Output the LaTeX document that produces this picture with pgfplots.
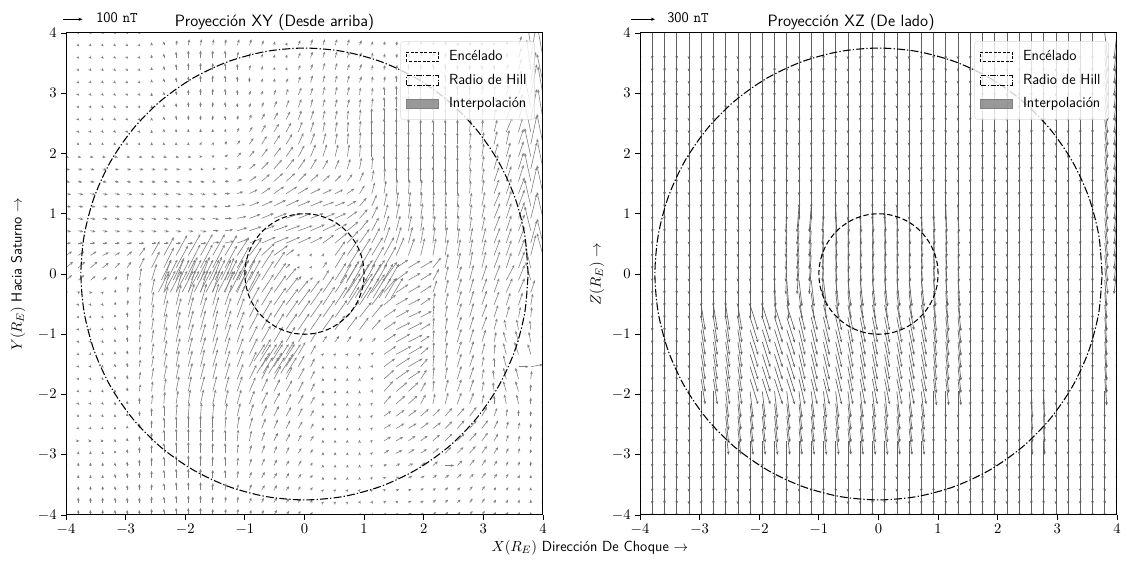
\documentclass[border=0pt]{standalone}
\usepackage{fontspec}
\usepackage{pgfplots}
\pgfplotsset{compat=1.18}
\usepackage{pgfplotstable}
\usetikzlibrary{arrows.meta}
\definecolor{qgray}{RGB}{128,128,128}
\pgfplotsset{
  qsA/.style={forget plot, draw=qgray, line width=0.45pt, -{Stealth[length=2.4pt,width=2pt]}, quiver={u=\thisrow{u}, v=\thisrow{v}, scale arrows=0.01677}},
  qsB/.style={forget plot, draw=qgray!75!black, line width=0.5pt, -{Stealth[length=2.4pt,width=2pt]}, quiver={u=\thisrow{u}, v=\thisrow{v}, scale arrows=0.01677}},
  panel/.style={scale only axis, width=357.75pt, height=361.5pt, xmin=-4, xmax=4, ymin=-4, ymax=4,
    xtick={-4,-3,...,4}, ytick={-4,-3,...,4}, tick pos=left, tick align=outside, major tick length=3.5pt,
    tick style={black, line width=0.6pt}, axis line style={line width=0.75pt},
    ticklabel style={font=\fontsize{10.5}{12}\selectfont}, axis on top, clip=true,
    legend style={at={(0.983,0.983)}, anchor=north east, draw=black!15, fill=white, fill opacity=0.8, text opacity=1,
      rounded corners=2pt, font=\sffamily\fontsize{11}{13}\selectfont, row sep=4.5pt, inner xsep=4pt, inner ysep=5pt},
    legend cell align=left},
  encel/.style={black, line width=0.8pt, dash pattern=on 4pt off 2pt, smooth, forget plot},
  hill/.style={black, line width=0.8pt, dash pattern=on 6pt off 1.6pt on 1pt off 1.6pt, smooth, forget plot},
}
\newcommand\qa[2]{\addplot[qsA] table[row sep=\\, x expr={-4+8/39*\coordindex}, y expr={4-8/39*#1}] {u v\\#2};}
\newcommand\qb[2]{\addplot[qsB] table[x expr={-4+8/39*\coordindex}, y expr={4-8/39*#1}] {#2};}
\newcommand\legs{%
  \addlegendimage{legend image code/.code={\path[draw=none, fill=none] (0pt,0pt) -- (30pt,0pt); \draw[sharp corners, black, line width=0.6pt, dash pattern=on 2.2pt off 1.2pt] (0pt,-3.5pt) rectangle (24pt,3.5pt);}}
  \addlegendentry{Encélado}
  \addlegendimage{legend image code/.code={\path[draw=none, fill=none] (0pt,0pt) -- (30pt,0pt); \draw[sharp corners, black, line width=0.6pt, dash pattern=on 4pt off 1.2pt on 0.8pt off 1.2pt] (0pt,-3.5pt) rectangle (24pt,3.5pt);}}
  \addlegendentry{Radio de Hill}
  \addlegendimage{legend image code/.code={\path[draw=none, fill=none] (0pt,0pt) -- (30pt,0pt); \fill[sharp corners, qgray] (0pt,-3.5pt) rectangle (24pt,3.5pt);}}
  \addlegendentry{Interpolación}}
\newcommand\circles{%
  \addplot[encel] coordinates {(1,0) (.9848,.1736) (.9397,.342) (.866,.5) (.766,.6428) (.6428,.766) (.5,.866) (.342,.9397) (.1736,.9848) (0,1) (-.1736,.9848) (-.342,.9397) (-.5,.866) (-.6428,.766) (-.766,.6428) (-.866,.5) (-.9397,.342) (-.9848,.1736) (-1,0) (-.9848,-.1736) (-.9397,-.342) (-.866,-.5) (-.766,-.6428) (-.6428,-.766) (-.5,-.866) (-.342,-.9397) (-.1736,-.9848) (0,-1) (.1736,-.9848) (.342,-.9397) (.5,-.866) (.6428,-.766) (.766,-.6428) (.866,-.5) (.9397,-.342) (.9848,-.1736) (1,0)};
  \addplot[hill] coordinates {(3.75,0) (3.693,.651) (3.524,1.283) (3.248,1.875) (2.873,2.411) (2.411,2.873) (1.875,3.248) (1.283,3.524) (.651,3.693) (0,3.75) (-.651,3.693) (-1.283,3.524) (-1.875,3.248) (-2.411,2.873) (-2.873,2.411) (-3.248,1.875) (-3.524,1.283) (-3.693,.651) (-3.75,0) (-3.693,-.651) (-3.524,-1.283) (-3.248,-1.875) (-2.873,-2.411) (-2.411,-2.873) (-1.875,-3.248) (-1.283,-3.524) (-.651,-3.693) (0,-3.75) (.651,-3.693) (1.283,-3.524) (1.875,-3.248) (2.411,-2.873) (2.873,-2.411) (3.248,-1.875) (3.524,-1.283) (3.693,-.651) (3.75,0)};}
% panel 2 row tables (u v in px, 40 grid columns)
\pgfplotstableread[row sep=\\]{u v\\0 -26\\0 -26\\0 -26\\0 -26\\0 -26\\0 -26\\0 -26\\0 -26\\0 -26\\0 -26\\0 -26\\0 -26\\0 -26\\0 -26\\0 -26\\0 -26\\0 -26\\0 -26\\0 -26\\0 -26\\0 -26\\0 -26\\0 -26\\0 -26\\0 -26\\0 -26\\0 -26\\0 -26\\0 -26\\0 -26\\0 -26\\0 -26\\0 -26\\0 -26\\0 -26\\0 -26\\0 -26\\0 -26\\3 -26\\-3 -26\\}\rowTop
\pgfplotstableread[row sep=\\]{u v\\0 -26\\0 -26\\0 -26\\0 -26\\0 -26\\0 -26\\0 -26\\0 -26\\0 -26\\0 -26\\0 -26\\0 -26\\-1 -26\\-2 -26\\-2 -26\\-1 -26\\1 -26\\1 -26\\1 -26\\1 -26\\1 -26\\1 -26\\1 -26\\1 -26\\1 -26\\1 -26\\1 -26\\0 -26\\0 -26\\0 -26\\0 -26\\0 -26\\0 -26\\0 -26\\0 -26\\0 -26\\0 -26\\0 -26\\3 -26\\-3 -26\\}\rowMidA
\pgfplotstableread[row sep=\\]{u v\\0 -26\\0 -26\\0 -26\\0 -26\\0 -26\\0 -26\\0 -26\\0 -26\\0 -26\\0 -26\\0 -26\\1 -26\\2 -26\\3 -26\\3 -26\\3 -26\\3 -26\\3 -26\\3 -26\\3 -26\\3 -26\\3 -26\\3 -26\\3 -26\\2 -26\\2 -26\\2 -26\\0 -26\\0 -26\\0 -26\\0 -26\\0 -26\\0 -26\\0 -26\\0 -26\\0 -26\\0 -26\\0 -26\\2 -26\\0 -26\\}\rowMidB
\pgfplotstableread[row sep=\\]{u v\\0 -26\\0 -26\\0 -26\\0 -26\\0 -26\\4 -25\\4 -25\\4 -25\\4 -25\\8 -25\\8 -25\\8 -25\\8 -25\\6 -25\\6 -25\\6 -25\\6 -25\\5 -25\\5 -25\\5 -25\\5 -25\\5 -25\\5 -25\\5 -25\\3 -26\\3 -26\\3 -26\\0 -26\\0 -26\\0 -26\\0 -26\\0 -26\\0 -26\\0 -26\\0 -26\\0 -26\\0 -26\\0 -26\\2 -26\\0 -26\\}\rowLowA
\pgfplotstableread[row sep=\\]{u v\\0 -26\\0 -26\\0 -26\\0 -26\\0 -26\\0 -26\\0 -26\\3 -26\\3 -26\\3 -26\\3 -26\\3 -26\\3 -26\\3 -26\\3 -26\\3 -26\\3 -26\\3 -26\\3 -26\\3 -26\\3 -26\\3 -26\\3 -26\\3 -26\\0 -26\\0 -26\\0 -26\\0 -26\\0 -26\\0 -26\\0 -26\\0 -26\\1 -26\\1 -26\\0 -26\\0 -26\\0 -26\\0 -26\\0 -26\\0 -26\\}\rowLowB
\pgfplotstableread[row sep=\\]{u v\\0 -26\\0 -26\\0 -26\\0 -26\\0 -26\\0 -26\\0 -26\\0 -26\\0 -26\\0 -26\\0 -26\\0 -26\\0 -26\\0 -26\\0 -26\\0 -26\\0 -26\\0 -26\\0 -26\\0 -26\\0 -26\\0 -26\\0 -26\\0 -26\\0 -26\\0 -26\\0 -26\\0 -26\\0 -26\\0 -26\\0 -26\\0 -26\\0 -26\\0 -26\\0 -26\\0 -26\\0 -26\\0 -26\\0 -26\\0 -26\\}\rowU
\begin{document}
\begin{tikzpicture}[x=0.75pt,y=0.75pt]
\path[use as bounding box] (0,0) rectangle (1128,563);
% ---------------- Panel 1 ----------------
\begin{axis}[panel, at={(49.5pt,36pt)}, anchor=south west]
\qa{0}{1 -1\\1 -1\\1 -1\\1 -1\\1 -1\\1 -1\\1 -1\\0 3\\0 4\\1 5\\1 6\\1 6\\1 6\\2 6\\2 6\\2 5\\1 4\\1 4\\1 3\\2 5\\2 6\\2 6\\2 6\\2 5\\1 5\\1 4\\1 4\\1 4\\1 4\\1 4\\1 4\\1 3\\1 3\\1 3\\0 3\\0 3\\0 3\\3 8\\4 28\\-5 30\\}
\qa{1}{1 -1\\1 -1\\1 -1\\1 -1\\1 -1\\1 -1\\1 -1\\0 3\\0 4\\1 5\\1 6\\1 6\\1 6\\1 6\\2 6\\2 6\\2 5\\1 4\\1 3\\2 5\\2 6\\2 6\\2 6\\2 6\\2 5\\1 4\\1 4\\1 4\\1 4\\1 4\\1 4\\1 4\\1 3\\1 3\\0 3\\0 3\\1 4\\3 9\\-5 30\\5 30\\}
\qa{2}{1 -1\\1 -1\\1 -1\\1 -1\\1 -1\\1 -1\\1 -1\\0 3\\0 4\\0 6\\0 7\\0 7\\0 7\\0 7\\1 6\\1 5\\1 4\\1 3\\1 3\\2 5\\2 6\\2 6\\2 6\\2 6\\2 5\\1 5\\1 4\\1 4\\1 4\\1 5\\1 5\\1 5\\0 4\\0 4\\0 4\\0 4\\1 5\\3 10\\5 30\\-5 28\\}
\qa{3}{1 -1\\1 -1\\1 -1\\1 -1\\1 -1\\1 -1\\1 -1\\0 3\\0 4\\0 6\\0 7\\0 7\\0 7\\0 7\\0 6\\1 5\\1 4\\1 3\\1 3\\2 5\\2 6\\2 7\\2 7\\2 6\\2 6\\1 5\\1 5\\1 5\\0 6\\0 6\\0 6\\0 6\\0 5\\0 5\\0 5\\0 5\\2 6\\3 11\\-4 30\\6 30\\}
\qa{4}{1 -1\\1 -1\\1 -1\\1 -1\\1 -1\\1 -1\\1 -1\\0 3\\0 4\\0 5\\0 6\\0 7\\0 7\\0 7\\0 6\\0 5\\1 4\\1 4\\2 4\\2 6\\2 7\\2 7\\2 7\\2 7\\2 6\\1 6\\1 6\\0 7\\0 8\\0 8\\0 8\\0 8\\0 7\\0 7\\0 7\\1 7\\3 8\\3 12\\5 30\\-6 28\\}
\qa{5}{1 -1\\1 -1\\1 -1\\1 -1\\1 -1\\1 -1\\1 -1\\0 2\\0 3\\0 4\\0 5\\0 6\\0 6\\0 6\\0 5\\1 4\\1 4\\2 5\\2 6\\3 7\\2 7\\2 8\\2 8\\2 8\\1 7\\1 7\\0 8\\0 9\\0 10\\0 10\\0 10\\0 9\\0 9\\0 9\\1 9\\1 9\\3 10\\4 13\\6 30\\-5 28\\}
\qa{6}{1 -1\\1 -1\\1 -1\\1 -1\\1 -1\\1 -1\\1 -1\\0 2\\0 3\\0 4\\0 5\\0 5\\0 5\\0 5\\0 4\\1 4\\2 5\\3 6\\3 7\\3 8\\2 8\\2 8\\2 8\\2 8\\1 8\\1 9\\0 10\\0 11\\0 11\\0 11\\0 11\\0 10\\0 10\\0 10\\1 10\\2 10\\4 12\\4 13\\-6 30\\5 30\\}
\qa{7}{1 -1\\1 -1\\1 -1\\1 -1\\1 -1\\1 -1\\1 -1\\0 2\\0 3\\0 4\\0 4\\0 4\\0 4\\0 4\\1 4\\2 5\\3 6\\4 7\\4 8\\3 9\\3 9\\2 9\\2 9\\1 9\\1 10\\0 11\\0 12\\0 12\\0 12\\0 12\\0 12\\0 11\\0 11\\0 11\\1 11\\2 11\\5 13\\4 14\\6 30\\-5 30\\}
\qa{8}{1 -1\\1 -1\\1 -1\\1 -1\\1 -1\\1 -1\\1 -1\\0 2\\0 3\\0 3\\0 3\\0 3\\0 3\\1 3\\2 4\\3 5\\4 7\\5 8\\5 9\\4 10\\3 10\\2 10\\2 10\\1 10\\1 11\\0 12\\0 13\\0 13\\0 13\\0 12\\0 12\\0 12\\0 12\\1 12\\1 12\\3 12\\6 14\\4 14\\-6 28\\6 28\\}
\qa{9}{1 -1\\1 -1\\1 -1\\1 -1\\1 -1\\1 -1\\1 -1\\0 2\\0 2\\0 2\\0 2\\1 2\\1 2\\2 3\\3 4\\4 6\\5 8\\6 9\\6 10\\5 11\\4 11\\3 11\\2 11\\1 11\\1 12\\0 13\\0 13\\0 13\\0 13\\0 13\\0 12\\0 12\\0 12\\1 12\\2 12\\3 13\\3 14\\5 15\\6 28\\-6 30\\}
\qa{10}{3 -1\\3 -1\\3 -1\\3 -1\\3 -1\\3 -1\\3 -1\\3 -1\\3 -1\\3 -1\\3 -1\\2 0\\2 1\\3 2\\4 4\\5 6\\6 8\\7 9\\7 10\\6 11\\5 12\\4 12\\3 12\\2 12\\1 12\\0 13\\0 13\\0 13\\0 13\\0 13\\0 13\\0 12\\0 12\\1 12\\2 13\\4 13\\4 14\\5 15\\-6 28\\6 28\\}
\qa{11}{4 -1\\4 -1\\4 -1\\4 -1\\4 -1\\4 -1\\4 -1\\4 -1\\4 -1\\4 -1\\4 -1\\3 -1\\3 0\\3 1\\4 3\\6 5\\7 7\\8 9\\8 10\\7 10\\6 10\\5 9\\4 9\\3 10\\2 11\\1 12\\0 13\\0 13\\0 13\\0 13\\0 13\\0 13\\0 12\\1 12\\2 13\\4 14\\4 15\\5 16\\6 26\\-6 30\\}
\qa{12}{4 -1\\4 -1\\4 -1\\4 -1\\4 -1\\4 -1\\4 -1\\4 -1\\4 -1\\4 -1\\4 -1\\4 -1\\3 -1\\4 0\\5 2\\7 5\\8 7\\9 8\\9 8\\8 8\\8 7\\7 6\\6 6\\5 7\\4 9\\2 11\\1 13\\0 14\\0 14\\0 14\\0 14\\0 13\\0 13\\1 13\\2 13\\5 14\\5 15\\5 16\\-6 28\\6 28\\}
\qa{13}{5 -1\\5 -1\\5 -1\\5 -1\\5 -1\\5 -1\\5 -1\\5 -1\\5 -1\\5 -1\\5 -1\\5 -1\\4 -1\\5 0\\6 2\\8 4\\9 6\\10 7\\11 7\\10 6\\10 5\\9 4\\8 4\\7 5\\5 8\\3 11\\2 13\\1 14\\1 14\\1 14\\0 14\\0 14\\0 13\\1 13\\2 14\\5 14\\5 15\\6 16\\6 26\\-6 28\\}
\qa{14}{5 -1\\5 -1\\5 -1\\5 -1\\5 -1\\5 -1\\5 -1\\5 -1\\5 -1\\5 -1\\5 -1\\5 -1\\5 -1\\6 0\\8 2\\10 4\\11 5\\12 6\\13 6\\12 5\\12 5\\11 4\\10 4\\9 5\\7 8\\5 11\\3 13\\2 14\\2 14\\1 14\\1 14\\1 14\\1 13\\2 13\\3 14\\6 14\\5 15\\6 16\\-6 26\\6 28\\}
\qa{15}{5 -1\\5 -1\\5 -1\\5 -1\\5 -1\\5 -1\\5 -1\\5 -1\\5 -1\\5 -1\\5 -1\\5 -1\\6 -1\\7 0\\9 2\\11 4\\12 5\\13 5\\14 5\\13 5\\13 5\\12 5\\11 5\\10 7\\8 9\\6 12\\4 14\\3 15\\2 15\\2 15\\1 15\\1 15\\1 14\\2 14\\3 14\\6 15\\5 15\\6 16\\6 24\\-6 26\\}
\qa{16}{5 -1\\5 -1\\5 -1\\5 -1\\5 -1\\5 -1\\5 -1\\5 -1\\5 -1\\5 -1\\5 -1\\6 -1\\6 0\\8 1\\10 3\\12 4\\13 5\\14 5\\14 5\\14 5\\14 6\\13 6\\12 7\\11 9\\9 11\\7 13\\5 15\\4 15\\3 15\\2 15\\2 15\\1 15\\1 15\\2 14\\3 14\\6 15\\5 15\\6 16\\-6 24\\6 26\\}
\qa{17}{5 0\\5 0\\5 0\\5 0\\5 0\\5 0\\5 0\\5 0\\5 0\\5 0\\5 0\\6 0\\7 1\\9 2\\11 4\\13 5\\14 6\\15 6\\14 6\\13 6\\12 6\\11 8\\12 10\\11 12\\10 14\\8 15\\6 16\\5 16\\4 16\\3 16\\2 16\\2 16\\2 15\\3 15\\4 15\\6 15\\5 15\\6 16\\6 22\\-6 24\\}
\qa{18}{6 4\\6 4\\6 4\\6 3\\5 3\\5 4\\6 8\\8 14\\10 18\\11 20\\12 21\\12 21\\12 21\\12 20\\12 18\\12 16\\13 12\\14 10\\8 6\\1 2\\1 2\\1 2\\10 14\\11 16\\11 17\\11 18\\10 18\\8 18\\6 17\\4 17\\3 17\\3 16\\3 16\\3 16\\4 16\\6 16\\5 15\\6 16\\5 20\\-6 22\\}
\qa{19}{7 6\\7 6\\7 6\\6 5\\5 5\\4 6\\5 10\\8 16\\10 20\\12 22\\12 23\\12 23\\12 23\\12 22\\12 21\\12 20\\12 18\\11 16\\4 4\\1 2\\1 2\\4 6\\10 16\\12 19\\12 20\\12 21\\12 21\\12 8\\12 7\\12 7\\8 10\\3 14\\3 15\\3 16\\4 16\\6 16\\5 15\\6 16\\-5 20\\6 20\\}
\qa{20}{6 5\\6 5\\5 4\\4 3\\2 4\\1 7\\2 12\\5 16\\7 20\\8 22\\9 23\\9 23\\9 23\\9 22\\10 21\\11 20\\12 19\\12 17\\10 12\\3 4\\2 3\\6 10\\11 17\\12 19\\13 20\\13 20\\13 18\\12 9\\12 7\\11 7\\6 11\\3 14\\4 14\\4 15\\5 15\\6 15\\8 15\\6 15\\-5 18\\6 18\\}
\qa{21}{2 1\\2 1\\2 0\\1 1\\1 3\\1 6\\1 10\\3 14\\5 19\\6 21\\7 22\\7 22\\7 22\\8 21\\9 20\\11 19\\12 18\\12 17\\12 15\\10 12\\9 12\\11 16\\12 18\\13 19\\13 19\\13 18\\12 14\\12 8\\12 7\\11 7\\4 12\\3 13\\4 14\\4 14\\5 14\\5 14\\6 14\\6 14\\4 12\\4 12\\}
\qa{22}{1 -1\\1 -1\\1 -1\\1 -1\\1 3\\1 5\\1 9\\2 13\\4 18\\5 20\\6 21\\6 21\\6 21\\7 20\\8 19\\10 18\\11 18\\12 17\\12 16\\12 16\\12 17\\12 18\\12 18\\12 18\\12 18\\12 16\\12 10\\12 7\\12 6\\10 7\\2 12\\3 12\\4 14\\4 14\\5 14\\5 13\\4 12\\4 12\\2 11\\2 10\\}
\qa{23}{1 -1\\1 -1\\1 -1\\1 -1\\0 3\\0 5\\1 9\\2 13\\4 17\\5 19\\5 20\\6 20\\6 20\\6 19\\7 19\\9 18\\10 17\\11 17\\12 17\\12 17\\12 17\\12 17\\12 17\\12 16\\12 15\\11 13\\12 8\\13 7\\13 6\\11 6\\1 12\\2 12\\4 14\\4 14\\5 13\\4 12\\3 11\\2 10\\1 10\\1 9\\}
\qa{24}{1 -1\\1 -1\\1 -1\\1 -1\\0 3\\0 5\\1 9\\2 12\\3 16\\4 18\\5 19\\5 19\\5 19\\6 19\\7 18\\9 17\\10 17\\10 16\\11 16\\11 16\\11 16\\11 15\\10 14\\10 13\\9 12\\9 10\\12 8\\14 7\\14 7\\10 6\\1 12\\2 12\\4 13\\4 13\\5 13\\3 11\\-2 10\\-2 10\\-1 9\\0 8\\}
\qa{25}{1 -1\\1 -1\\1 -1\\1 -1\\0 3\\0 5\\1 8\\2 12\\3 15\\4 17\\5 18\\5 18\\5 18\\6 18\\6 17\\8 16\\9 16\\9 15\\9 15\\8 14\\6 10\\4 6\\4 6\\4 6\\3 4\\4 4\\12 8\\14 8\\14 7\\9 6\\1 12\\2 12\\4 13\\4 13\\4 12\\2 10\\-3 10\\-3 11\\-2 10\\0 8\\}
\qa{26}{1 -1\\1 -1\\1 -1\\1 -1\\0 3\\0 4\\1 8\\2 11\\3 14\\4 16\\4 17\\5 17\\5 17\\5 17\\6 16\\8 16\\9 15\\9 14\\8 13\\7 12\\5 9\\1 1\\1 1\\1 1\\1 1\\2 2\\12 8\\15 8\\14 8\\8 7\\1 12\\2 12\\4 13\\4 13\\3 11\\1 10\\-3 11\\-4 12\\-3 10\\0 8\\}
\qa{27}{1 -1\\1 -1\\1 -1\\1 -1\\0 3\\0 4\\1 7\\2 11\\3 14\\3 16\\4 16\\4 17\\5 17\\5 16\\6 16\\7 15\\8 14\\8 14\\7 13\\6 11\\4 8\\0 1\\0 1\\0 1\\0 1\\1 2\\11 8\\14 9\\14 8\\7 8\\1 12\\2 12\\4 13\\4 12\\2 10\\0 9\\-3 11\\10 0\\12 2\\0 8\\}
\qa{28}{1 -1\\1 -1\\1 -1\\1 -1\\0 3\\0 4\\1 7\\2 11\\3 14\\3 15\\4 16\\4 16\\4 16\\5 16\\6 15\\7 14\\7 14\\7 13\\6 12\\6 11\\4 8\\0 1\\0 1\\0 1\\0 1\\1 2\\10 9\\13 9\\12 8\\6 9\\1 12\\2 12\\4 13\\4 12\\2 10\\-1 9\\-3 11\\-3 11\\1 8\\0 6\\}
\qa{29}{1 -1\\1 -1\\1 -1\\1 -1\\0 2\\0 4\\1 7\\1 10\\2 13\\3 15\\3 15\\4 15\\4 15\\4 15\\5 15\\6 14\\6 13\\6 12\\6 11\\5 10\\4 8\\0 1\\0 1\\0 1\\0 1\\1 2\\9 10\\11 9\\10 9\\5 9\\1 11\\3 12\\4 12\\4 12\\2 10\\-1 9\\-3 10\\-3 10\\0 7\\0 5\\}
\qa{30}{1 -1\\1 -1\\1 -1\\1 -1\\0 2\\0 3\\0 6\\1 9\\1 12\\2 13\\2 14\\3 14\\3 14\\3 14\\4 14\\5 13\\6 12\\6 11\\5 10\\5 9\\4 7\\0 1\\0 1\\0 1\\0 1\\1 1\\7 8\\9 8\\9 8\\5 9\\2 10\\3 11\\4 11\\4 11\\2 9\\0 8\\-2 9\\-2 9\\0 6\\0 4\\}
\qa{31}{1 -1\\1 -1\\1 -1\\1 -1\\0 2\\0 3\\0 5\\0 8\\0 11\\1 12\\1 13\\1 13\\1 13\\2 13\\3 13\\4 12\\5 11\\5 10\\5 9\\4 8\\3 6\\0 1\\0 1\\0 1\\0 1\\1 1\\7 5\\8 6\\8 6\\8 7\\7 7\\7 8\\7 8\\7 9\\5 9\\3 8\\1 7\\0 6\\0 5\\0 4\\}
\qa{32}{1 -1\\1 -1\\1 -1\\1 -1\\0 2\\0 3\\0 5\\0 8\\0 11\\0 12\\0 13\\0 13\\0 13\\1 12\\2 12\\3 11\\4 10\\4 9\\4 8\\4 7\\3 5\\0 1\\0 1\\0 1\\0 1\\1 1\\7 4\\8 5\\8 5\\8 6\\8 6\\7 7\\7 8\\7 8\\6 8\\4 8\\2 7\\1 6\\0 5\\0 4\\}
\qa{33}{1 0\\1 0\\1 0\\1 0\\0 2\\0 3\\0 5\\0 8\\0 11\\0 12\\0 12\\0 12\\0 12\\0 11\\1 11\\2 10\\3 9\\4 8\\4 7\\3 6\\3 5\\0 1\\0 1\\0 1\\0 1\\1 1\\7 4\\7 4\\7 5\\7 5\\7 6\\7 7\\7 7\\7 8\\6 8\\4 7\\2 6\\1 5\\0 5\\0 4\\}
\qa{34}{0 2\\0 2\\0 2\\0 2\\0 3\\0 4\\0 6\\0 8\\0 10\\0 11\\0 11\\0 11\\0 10\\0 10\\1 9\\2 8\\3 8\\3 7\\3 6\\3 5\\2 4\\0 1\\0 1\\0 1\\0 1\\1 1\\5 3\\6 3\\6 4\\6 4\\6 5\\6 6\\6 6\\6 7\\5 7\\4 6\\2 5\\1 5\\0 4\\0 3\\}
\qa{35}{0 3\\0 3\\0 3\\0 3\\0 3\\0 4\\0 6\\0 8\\0 9\\0 10\\0 10\\0 10\\0 9\\0 9\\1 8\\2 7\\3 7\\3 6\\3 5\\3 5\\2 3\\0 1\\0 1\\0 1\\0 1\\1 1\\3 1\\4 2\\5 2\\5 3\\5 4\\9 0\\5 5\\5 6\\4 6\\3 5\\2 4\\1 4\\0 4\\0 3\\}
\qa{36}{0 3\\0 3\\0 3\\0 3\\0 4\\0 5\\0 6\\0 7\\0 8\\0 9\\0 9\\0 9\\0 8\\0 8\\1 7\\2 6\\3 6\\3 5\\3 5\\3 4\\2 3\\0 1\\0 1\\0 1\\0 1\\1 1\\2 1\\3 1\\4 2\\4 2\\4 3\\4 3\\4 4\\4 4\\4 5\\3 4\\2 4\\1 3\\0 3\\0 3\\}
\qa{37}{0 4\\0 4\\0 4\\0 4\\0 4\\0 5\\0 6\\0 6\\0 7\\0 8\\0 8\\0 8\\0 7\\1 7\\1 6\\2 6\\3 5\\3 5\\3 4\\2 4\\2 3\\1 1\\1 1\\1 1\\1 1\\1 1\\2 1\\3 1\\3 1\\3 2\\3 2\\3 3\\3 3\\3 4\\3 4\\2 3\\2 3\\1 3\\0 3\\0 3\\}
\qa{38}{0 5\\0 5\\0 5\\0 5\\0 5\\0 5\\0 5\\0 6\\0 6\\0 7\\0 7\\0 7\\0 6\\1 6\\1 6\\2 5\\2 5\\3 5\\3 4\\2 4\\2 3\\1 1\\1 1\\1 1\\1 2\\1 2\\2 2\\2 2\\3 2\\3 2\\3 3\\3 3\\3 3\\3 4\\3 4\\2 3\\2 3\\1 3\\0 3\\0 3\\}
\qa{39}{0 5\\0 5\\0 5\\0 5\\0 5\\0 5\\0 5\\0 6\\0 6\\0 7\\0 7\\0 7\\0 6\\1 6\\1 6\\2 5\\2 5\\3 5\\3 4\\2 4\\2 3\\1 1\\1 1\\1 1\\1 2\\1 2\\2 2\\2 2\\3 2\\3 2\\3 3\\3 3\\3 3\\3 4\\3 4\\2 3\\2 3\\1 3\\0 3\\0 3\\}
% denser interpolation arrows along the bands
\addplot[qsA] table[row sep=\\] {x y u v\\
-2.45 -0.3 11 21\\-2.35 -0.3 11 21\\-2.25 -0.3 11 21\\-2.15 -0.3 11 21\\-2.05 -0.3 11 21\\-1.95 -0.3 11 21\\-1.85 -0.3 11 21\\-1.75 -0.3 11 21\\-1.65 -0.3 11 21\\-1.55 -0.3 11 21\\-1.45 -0.3 11 21\\-1.35 -0.3 11 21\\-1.25 -0.3 11 21\\-1.15 -0.3 11 21\\-1.05 -0.3 11 21\\-0.95 -0.3 11 21\\
-2.4 -0.1 10 20\\-2.3 -0.1 10 20\\-2.2 -0.1 10 20\\-2.1 -0.1 10 20\\-2.0 -0.1 10 20\\-1.9 -0.1 10 20\\-1.8 -0.1 10 20\\-1.7 -0.1 10 20\\-1.6 -0.1 10 20\\-1.5 -0.1 10 20\\-1.4 -0.1 10 20\\-1.3 -0.1 10 20\\-1.2 -0.1 10 20\\-1.1 -0.1 10 20\\-1.0 -0.1 10 20\\
0.65 -0.4 12 20\\0.75 -0.4 12 20\\0.85 -0.4 12 20\\0.95 -0.4 12 20\\1.05 -0.4 12 20\\1.15 -0.4 12 20\\1.25 -0.4 12 20\\1.35 -0.4 12 20\\1.45 -0.4 12 20\\
0.6 -0.15 11 19\\0.7 -0.15 11 19\\0.8 -0.15 11 19\\0.9 -0.15 11 19\\1.0 -0.15 11 19\\1.1 -0.15 11 19\\1.2 -0.15 11 19\\1.3 -0.15 11 19\\1.4 -0.15 11 19\\
-0.85 -1.45 11 17\\-0.75 -1.45 11 17\\-0.65 -1.45 11 17\\-0.55 -1.45 11 17\\-0.45 -1.45 11 17\\-0.35 -1.45 11 17\\-0.25 -1.45 11 17\\
-0.8 -1.65 10 16\\-0.7 -1.65 10 16\\-0.6 -1.65 10 16\\-0.5 -1.65 10 16\\-0.4 -1.65 10 16\\-0.3 -1.65 10 16\\};
\circles
\legs
\end{axis}
% ---------------- Panel 2 ----------------
\begin{axis}[panel, at={(480pt,36pt)}, anchor=south west]
\pgfplotsinvokeforeach{0,...,13}{\qb{#1}{\rowTop}}
\pgfplotsinvokeforeach{14,...,19}{\qb{#1}{\rowMidA}}
\pgfplotsinvokeforeach{20,21}{\qb{#1}{\rowMidB}}
\pgfplotsinvokeforeach{22,...,28}{\qb{#1}{\rowLowA}}
\pgfplotsinvokeforeach{29,...,32}{\qb{#1}{\rowLowB}}
\pgfplotsinvokeforeach{33,...,39}{\qb{#1}{\rowU}}
\circles
\legs
\end{axis}
% ---------------- Titles, keys, labels ----------------
\node[anchor=base, font=\sffamily\fontsize{12.3}{15}\selectfont] at (274.5,536) {Proyección XY (Desde arriba)};
\node[anchor=base, font=\sffamily\fontsize{12.3}{15}\selectfont] at (851,536) {Proyección XZ (De lado)};
\draw[black, line width=0.6pt, -{Stealth[length=3pt,width=2.4pt]}] (63,543.7) -- (82.5,543.7);
\node[anchor=base west, inner sep=0pt, font=\sffamily\fontsize{11}{13}\selectfont] at (96,540) {100 \texttt{nT}};
\draw[black, line width=0.6pt, -{Stealth[length=3pt,width=2.4pt]}] (631,543.7) -- (655,543.7);
\node[anchor=base west, inner sep=0pt, font=\sffamily\fontsize{11}{13}\selectfont] at (667,540) {300 \texttt{nT}};
\node[rotate=90, font=\sffamily\fontsize{11}{13}\selectfont] at (18,289) {$Y(R_E)$ Hacia Saturno $\rightarrow$};
\node[rotate=90, font=\sffamily\fontsize{11}{13}\selectfont] at (597,289) {$Z(R_E)$ $\rightarrow$};
\node[font=\sffamily\fontsize{11}{13}\selectfont] at (590,15) {$X(R_E)$ Dirección De Choque $\rightarrow$};
\end{tikzpicture}
\end{document}
